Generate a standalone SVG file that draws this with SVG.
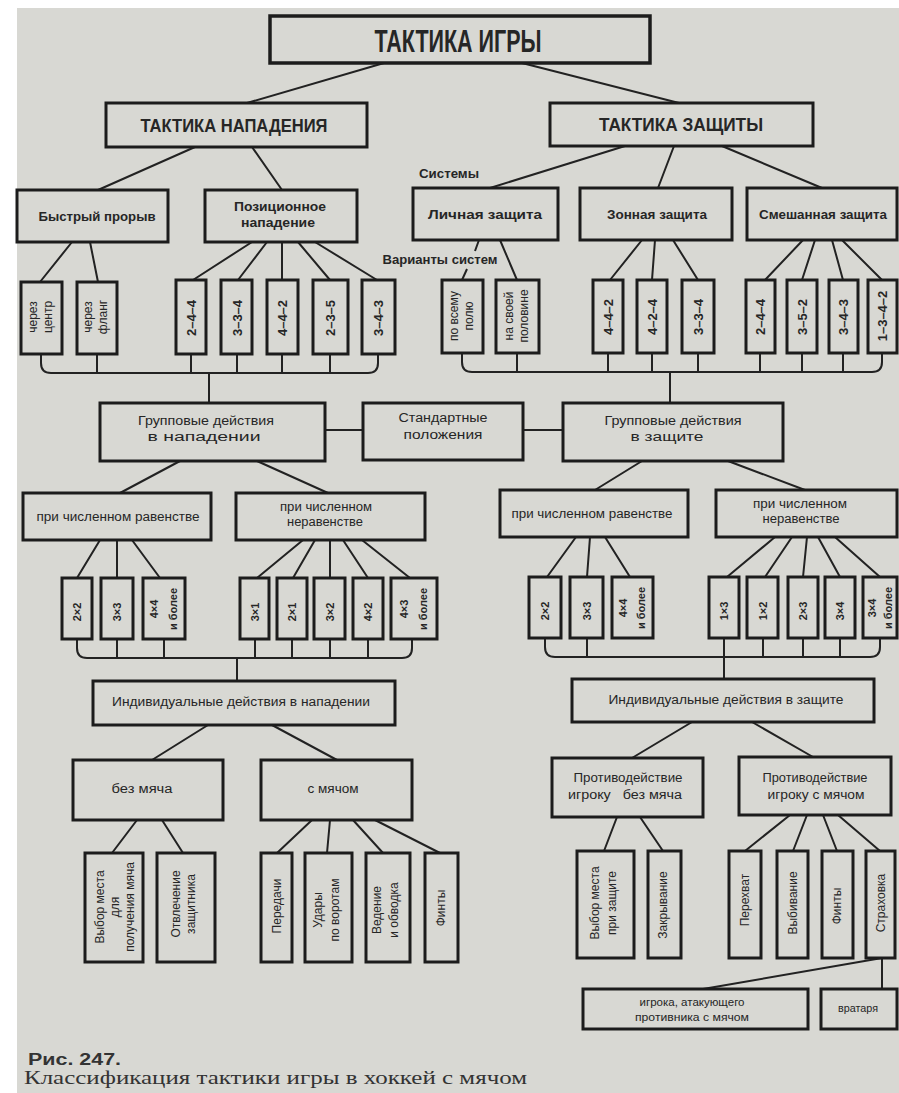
<svg xmlns="http://www.w3.org/2000/svg" width="899" height="1093" viewBox="0 0 899 1093">
<style>
.bx{fill:#d8d8d3;stroke:#1c1c1c;stroke-width:3}
.b4{fill:#d8d8d3;stroke:#1c1c1c;stroke-width:3.5}
.ln{stroke:#222;stroke-width:2;fill:none}
text{font-family:"Liberation Sans Narrow","Liberation Sans",Arial,sans-serif;fill:#262626;text-anchor:middle;dominant-baseline:central}
.h1{font-size:31px;font-weight:bold}
.h2{font-size:18px;font-weight:bold}
.m{font-size:13px;font-weight:bold}
.s{font-size:12px}
.d{font-size:13px;font-weight:bold}
.v{font-size:12px}
.x{font-size:11px;font-weight:bold}
.cap{font-family:"Liberation Sans",Arial,sans-serif;font-size:16px;font-weight:bold;text-anchor:start;dominant-baseline:auto;fill:#333}
.cap2{font-family:"Liberation Serif","Times New Roman",serif;font-size:18px;text-anchor:start;dominant-baseline:auto;fill:#333}
</style>
<rect x="0" y="0" width="899" height="1093" fill="#ffffff"/>
<rect x="17" y="8" width="882" height="1085" fill="#d8d8d3"/>

<g id="connectors">
<path class="ln" d="M384,63L247,103M522,63L679,103"/>
<path class="ln" d="M195,147L98,190M252,147L282,190M625,146L490,188M674,146L658,188M722,146L822,188"/>
<path class="ln" d="M72,242L40,282M90,242L98,282"/>
<path class="ln" d="M252,242L193,280M267,242L238,280M282,242L282,280M298,242L330,280M315,242L377,280"/>
<path class="ln" d="M479,240L475,251M467,269L462,280M500,240L517,280"/>
<path class="ln" d="M642,240L610,280M655,240L652,280M673,240L698,280"/>
<path class="ln" d="M803,240L765,280M815,240L802,280M832,240L843,280M842,240L882,280"/>
<path class="ln" d="M41,354V363Q41,373 51,373H368Q378,373 378,363V354M97,354V373M191,354V373M237,354V373M282,354V373M330,354V373M209,373V403"/>
<path class="ln" d="M462,353V362Q462,372 472,372H872Q882,372 882,362V353M517,353V372M608,353V372M652,353V372M698,353V372M760,353V372M802,353V372M843,353V372M670,372V403"/>
<path class="ln" d="M325,430H363M523,430H563"/>
<path class="ln" d="M180,461L120,493M257,461L328,493M642,461L595,490M728,461L805,490"/>
<path class="ln" d="M100,540L77,578M117,540L117,578M132,540L160,578"/>
<path class="ln" d="M303,540L257,578M315,540L293,578M330,540L330,578M343,540L368,578M362,540L410,578"/>
<path class="ln" d="M576,537L547,577M590,537L587,577M605,537L630,577"/>
<path class="ln" d="M775,537L727,577M792,537L765,577M807,537L803,577M818,537L840,577M835,537L880,577"/>
<path class="ln" d="M77,639V648Q77,658 87,658H402Q412,658 412,648V639M117,639V658M164,639V658M255,639V658M292,639V658M330,639V658M368,639V658M237,658V681"/>
<path class="ln" d="M545,638V647Q545,657 555,657H870Q880,657 880,647V638M587,638V657M763,638V657M803,638V657M840,638V657M724,638V679"/>
<path class="ln" d="M208,725L152,760M272,725L337,760M692,722L632,758M752,722L813,757"/>
<path class="ln" d="M137,820L112,853M162,820L183,853M312,820L277,853M330,820L327,853M353,820L383,853M375,820L440,853"/>
<path class="ln" d="M617,817L604,851M640,817L663,851M790,815L745,851M807,815L793,851M823,815L837,851M838,815L880,851"/>
<path class="ln" d="M882,958V989M882,958L703,989"/>
</g>

<g id="n-root"><rect class="b4" x="270" y="16" width="380" height="47"/><text class="h1" x="458" y="41" textLength="167" lengthAdjust="spacingAndGlyphs">ТАКТИКА ИГРЫ</text></g>
<g id="n-attack"><rect class="bx" x="106" y="103" width="261" height="44"/><text class="h2" x="234" y="126" textLength="187" lengthAdjust="spacingAndGlyphs">ТАКТИКА НАПАДЕНИЯ</text></g>
<g id="n-defense"><rect class="bx" x="550" y="103" width="263" height="43"/><text class="h2" x="681" y="125" textLength="164" lengthAdjust="spacingAndGlyphs">ТАКТИКА ЗАЩИТЫ</text></g>

<g id="lbl-systems"><text class="m" x="449" y="173" textLength="60" lengthAdjust="spacingAndGlyphs">Системы</text></g>
<g id="lbl-variants"><text class="m" x="440" y="259" textLength="115" lengthAdjust="spacingAndGlyphs">Варианты систем</text></g>

<g id="n-fast"><rect class="bx" x="17" y="190" width="151" height="52"/><text class="m" x="97" y="216" textLength="117" lengthAdjust="spacingAndGlyphs">Быстрый прорыв</text></g>
<g id="n-positional"><rect class="bx" x="205" y="190" width="152" height="52"/><text class="m" x="280" y="206" textLength="92" lengthAdjust="spacingAndGlyphs">Позиционное</text><text class="m" x="278" y="222" textLength="74" lengthAdjust="spacingAndGlyphs">нападение</text></g>
<g id="n-personal"><rect class="bx" x="413" y="188" width="145" height="52"/><text class="m" x="485" y="214" textLength="114" lengthAdjust="spacingAndGlyphs">Личная защита</text></g>
<g id="n-zone"><rect class="bx" x="580" y="188" width="152" height="52"/><text class="m" x="657" y="214" textLength="100" lengthAdjust="spacingAndGlyphs">Зонная защита</text></g>
<g id="n-mixed"><rect class="bx" x="747" y="188" width="150" height="52"/><text class="m" x="823" y="214" textLength="128" lengthAdjust="spacingAndGlyphs">Смешанная защита</text></g>

<g id="n-center"><rect class="bx" x="21" y="282" width="41" height="72"/><text class="v" transform="translate(41,317) rotate(-90)"><tspan x="0" y="-8">через</tspan><tspan x="0" y="7">центр</tspan></text></g>
<g id="n-flank"><rect class="bx" x="77" y="282" width="40" height="72"/><text class="v" transform="translate(96,317) rotate(-90)"><tspan x="0" y="-8">через</tspan><tspan x="0" y="7">фланг</tspan></text></g>
<g id="n-a244"><rect class="bx" x="176" y="280" width="30" height="74"/><text class="d" transform="translate(191,318) rotate(-90)">2–4–4</text></g>
<g id="n-a334"><rect class="bx" x="221" y="280" width="31" height="74"/><text class="d" transform="translate(237,318) rotate(-90)">3–3–4</text></g>
<g id="n-a442"><rect class="bx" x="267" y="280" width="31" height="74"/><text class="d" transform="translate(282,318) rotate(-90)">4–4–2</text></g>
<g id="n-a235"><rect class="bx" x="313" y="280" width="35" height="74"/><text class="d" transform="translate(330,318) rotate(-90)">2–3–5</text></g>
<g id="n-a343"><rect class="bx" x="362" y="280" width="33" height="74"/><text class="d" transform="translate(378,318) rotate(-90)">3–4–3</text></g>

<g id="n-wholefield"><rect class="bx" x="442" y="280" width="41" height="73"/><text class="v" transform="translate(462,316) rotate(-90)"><tspan x="0" y="-8">по всему</tspan><tspan x="0" y="7">полю</tspan></text></g>
<g id="n-ownhalf"><rect class="bx" x="496" y="280" width="43" height="73"/><text class="v" transform="translate(517,316) rotate(-90)"><tspan x="0" y="-8">на своей</tspan><tspan x="0" y="7">половине</tspan></text></g>
<g id="n-z442"><rect class="bx" x="593" y="280" width="30" height="73"/><text class="d" transform="translate(608,317) rotate(-90)">4–4–2</text></g>
<g id="n-z424"><rect class="bx" x="637" y="280" width="30" height="73"/><text class="d" transform="translate(652,317) rotate(-90)">4–2–4</text></g>
<g id="n-z334"><rect class="bx" x="682" y="280" width="32" height="73"/><text class="d" transform="translate(698,317) rotate(-90)">3–3–4</text></g>
<g id="n-m244"><rect class="bx" x="746" y="280" width="29" height="73"/><text class="d" transform="translate(760,317) rotate(-90)">2–4–4</text></g>
<g id="n-m352"><rect class="bx" x="787" y="280" width="30" height="73"/><text class="d" transform="translate(802,317) rotate(-90)">3–5–2</text></g>
<g id="n-m343"><rect class="bx" x="829" y="280" width="29" height="73"/><text class="d" transform="translate(843,317) rotate(-90)">3–4–3</text></g>
<g id="n-m1342"><rect class="bx" x="868" y="280" width="29" height="73"/><text class="d" transform="translate(882,316) rotate(-90)">1–3–4–2</text></g>

<g id="n-group-attack"><rect class="bx" x="100" y="403" width="225" height="58"/><text class="s" x="206" y="421" textLength="136" lengthAdjust="spacingAndGlyphs">Групповые действия</text><text class="s" x="204" y="437" textLength="113" lengthAdjust="spacingAndGlyphs">в нападении</text></g>
<g id="n-setpieces"><rect class="bx" x="363" y="403" width="160" height="57"/><text class="s" x="443" y="418" textLength="89" lengthAdjust="spacingAndGlyphs">Стандартные</text><text class="s" x="443" y="435" textLength="79" lengthAdjust="spacingAndGlyphs">положения</text></g>
<g id="n-group-defense"><rect class="bx" x="563" y="403" width="220" height="58"/><text class="s" x="673" y="421" textLength="137" lengthAdjust="spacingAndGlyphs">Групповые действия</text><text class="s" x="667" y="437" textLength="73" lengthAdjust="spacingAndGlyphs">в защите</text></g>

<g id="n-a-equal"><rect class="bx" x="23" y="493" width="188" height="47"/><text class="s" x="118" y="517" textLength="163" lengthAdjust="spacingAndGlyphs">при численном равенстве</text></g>
<g id="n-a-unequal"><rect class="bx" x="236" y="493" width="189" height="47"/><text class="s" x="326" y="507" textLength="92" lengthAdjust="spacingAndGlyphs">при численном</text><text class="s" x="325" y="522" textLength="76" lengthAdjust="spacingAndGlyphs">неравенстве</text></g>
<g id="n-d-equal"><rect class="bx" x="500" y="490" width="188" height="47"/><text class="s" x="592" y="514" textLength="161" lengthAdjust="spacingAndGlyphs">при численном равенстве</text></g>
<g id="n-d-unequal"><rect class="bx" x="716" y="490" width="181" height="47"/><text class="s" x="800" y="504" textLength="94" lengthAdjust="spacingAndGlyphs">при численном</text><text class="s" x="801" y="519" textLength="77" lengthAdjust="spacingAndGlyphs">неравенстве</text></g>

<g id="n-a22"><rect class="bx" x="62" y="578" width="30" height="61"/><text class="x" transform="translate(77,612) rotate(-90)">2×2</text></g>
<g id="n-a33"><rect class="bx" x="101" y="578" width="32" height="61"/><text class="x" transform="translate(117,612) rotate(-90)">3×3</text></g>
<g id="n-a44"><rect class="bx" x="143" y="578" width="42" height="61"/><text class="x" transform="translate(164,609) rotate(-90)"><tspan x="0" y="-10">4×4</tspan><tspan x="0" y="9">и более</tspan></text></g>
<g id="n-a31"><rect class="bx" x="240" y="578" width="29" height="61"/><text class="x" transform="translate(255,612) rotate(-90)">3×1</text></g>
<g id="n-a21"><rect class="bx" x="277" y="578" width="30" height="61"/><text class="x" transform="translate(292,612) rotate(-90)">2×1</text></g>
<g id="n-a32"><rect class="bx" x="314" y="578" width="31" height="61"/><text class="x" transform="translate(330,612) rotate(-90)">3×2</text></g>
<g id="n-a42"><rect class="bx" x="353" y="578" width="30" height="61"/><text class="x" transform="translate(368,612) rotate(-90)">4×2</text></g>
<g id="n-a43"><rect class="bx" x="391" y="578" width="46" height="61"/><text class="x" transform="translate(414,609) rotate(-90)"><tspan x="0" y="-10">4×3</tspan><tspan x="0" y="9">и более</tspan></text></g>

<g id="n-d22"><rect class="bx" x="529" y="577" width="32" height="61"/><text class="x" transform="translate(545,611) rotate(-90)">2×2</text></g>
<g id="n-d33"><rect class="bx" x="570" y="577" width="33" height="61"/><text class="x" transform="translate(587,611) rotate(-90)">3×3</text></g>
<g id="n-d44"><rect class="bx" x="612" y="577" width="41" height="61"/><text class="x" transform="translate(632,608) rotate(-90)"><tspan x="0" y="-9">4×4</tspan><tspan x="0" y="9">и более</tspan></text></g>
<g id="n-d13"><rect class="bx" x="709" y="577" width="30" height="61"/><text class="x" transform="translate(724,611) rotate(-90)">1×3</text></g>
<g id="n-d12"><rect class="bx" x="747" y="577" width="31" height="61"/><text class="x" transform="translate(763,611) rotate(-90)">1×2</text></g>
<g id="n-d23"><rect class="bx" x="788" y="577" width="30" height="61"/><text class="x" transform="translate(803,611) rotate(-90)">2×3</text></g>
<g id="n-d34"><rect class="bx" x="825" y="577" width="30" height="61"/><text class="x" transform="translate(840,611) rotate(-90)">3×4</text></g>
<g id="n-d34m"><rect class="bx" x="863" y="577" width="34" height="61"/><text class="x" transform="translate(880,608) rotate(-90)"><tspan x="0" y="-8">3×4</tspan><tspan x="0" y="8">и более</tspan></text></g>

<g id="n-ind-attack"><rect class="bx" x="93" y="681" width="302" height="44"/><text class="s" x="241" y="702" textLength="258" lengthAdjust="spacingAndGlyphs">Индивидуальные действия в нападении</text></g>
<g id="n-ind-defense"><rect class="bx" x="572" y="679" width="302" height="43"/><text class="s" x="726" y="700" textLength="235" lengthAdjust="spacingAndGlyphs">Индивидуальные действия в защите</text></g>

<g id="n-noball"><rect class="bx" x="73" y="760" width="150" height="60"/><text class="s" x="142" y="789" textLength="61" lengthAdjust="spacingAndGlyphs">без мяча</text></g>
<g id="n-withball"><rect class="bx" x="261" y="760" width="151" height="60"/><text class="s" x="333" y="789" textLength="51" lengthAdjust="spacingAndGlyphs">с мячом</text></g>
<g id="n-counter-noball"><rect class="bx" x="552" y="758" width="151" height="59"/><text class="s" x="628" y="778" textLength="109" lengthAdjust="spacingAndGlyphs">Противодействие</text><text class="s" x="625" y="795" textLength="114" lengthAdjust="spacingAndGlyphs" xml:space="preserve">игроку   без мяча</text></g>
<g id="n-counter-ball"><rect class="bx" x="739" y="757" width="152" height="58"/><text class="s" x="815" y="778" textLength="105" lengthAdjust="spacingAndGlyphs">Противодействие</text><text class="s" x="816" y="795" textLength="97" lengthAdjust="spacingAndGlyphs">игроку с мячом</text></g>

<g id="n-position"><rect class="bx" x="85" y="853" width="58" height="109"/><text class="v" transform="translate(115,907) rotate(-90)"><tspan x="0" y="-15">Выбор места</tspan><tspan x="0" y="0">для</tspan><tspan x="0" y="15">получения мяча</tspan></text></g>
<g id="n-distract"><rect class="bx" x="157" y="853" width="58" height="109"/><text class="v" transform="translate(184,904) rotate(-90)"><tspan x="0" y="-8">Отвлечение</tspan><tspan x="0" y="7">защитника</tspan></text></g>
<g id="n-passes"><rect class="bx" x="261" y="853" width="31" height="109"/><text class="v" transform="translate(277,906) rotate(-90)">Передачи</text></g>
<g id="n-shots"><rect class="bx" x="305" y="853" width="47" height="109"/><text class="v" transform="translate(327,910) rotate(-90)"><tspan x="0" y="-9">Удары</tspan><tspan x="0" y="8">по воротам</tspan></text></g>
<g id="n-dribble"><rect class="bx" x="366" y="853" width="44" height="109"/><text class="v" transform="translate(386,910) rotate(-90)"><tspan x="0" y="-9">Ведение</tspan><tspan x="0" y="8">и обводка</tspan></text></g>
<g id="n-feints-a"><rect class="bx" x="425" y="853" width="33" height="109"/><text class="v" transform="translate(441,908) rotate(-90)">Финты</text></g>

<g id="n-position-d"><rect class="bx" x="577" y="851" width="57" height="107"/><text class="v" transform="translate(604,903) rotate(-90)"><tspan x="0" y="-9">Выбор места</tspan><tspan x="0" y="8">при защите</tspan></text></g>
<g id="n-closing"><rect class="bx" x="648" y="851" width="33" height="107"/><text class="v" transform="translate(663,905) rotate(-90)">Закрывание</text></g>
<g id="n-intercept"><rect class="bx" x="729" y="851" width="32" height="107"/><text class="v" transform="translate(745,900) rotate(-90)">Перехват</text></g>
<g id="n-knockout"><rect class="bx" x="777" y="851" width="31" height="107"/><text class="v" transform="translate(793,903) rotate(-90)">Выбивание</text></g>
<g id="n-feints-d"><rect class="bx" x="822" y="851" width="31" height="107"/><text class="v" transform="translate(837,906) rotate(-90)">Финты</text></g>
<g id="n-cover"><rect class="bx" x="866" y="851" width="29" height="107"/><text class="v" transform="translate(881,903) rotate(-90)">Страховка</text></g>

<g id="n-cover-player"><rect class="bx" x="583" y="989" width="225" height="40"/><text class="x" style="font-weight:normal" x="692" y="1002" textLength="105" lengthAdjust="spacingAndGlyphs">игрока, атакующего</text><text class="x" style="font-weight:normal" x="692" y="1017" textLength="114" lengthAdjust="spacingAndGlyphs">противника с мячом</text></g>
<g id="n-cover-keeper"><rect class="bx" x="821" y="989" width="76" height="40"/><text class="x" style="font-weight:normal" x="858" y="1008" textLength="40" lengthAdjust="spacingAndGlyphs">вратаря</text></g>

<g id="caption">
<text class="cap" x="28" y="1065" textLength="93" lengthAdjust="spacingAndGlyphs">Рис. 247.</text>
<text class="cap2" x="24" y="1084" textLength="503" lengthAdjust="spacingAndGlyphs">Классификация тактики игры в хоккей с мячом</text>
</g>
</svg>
